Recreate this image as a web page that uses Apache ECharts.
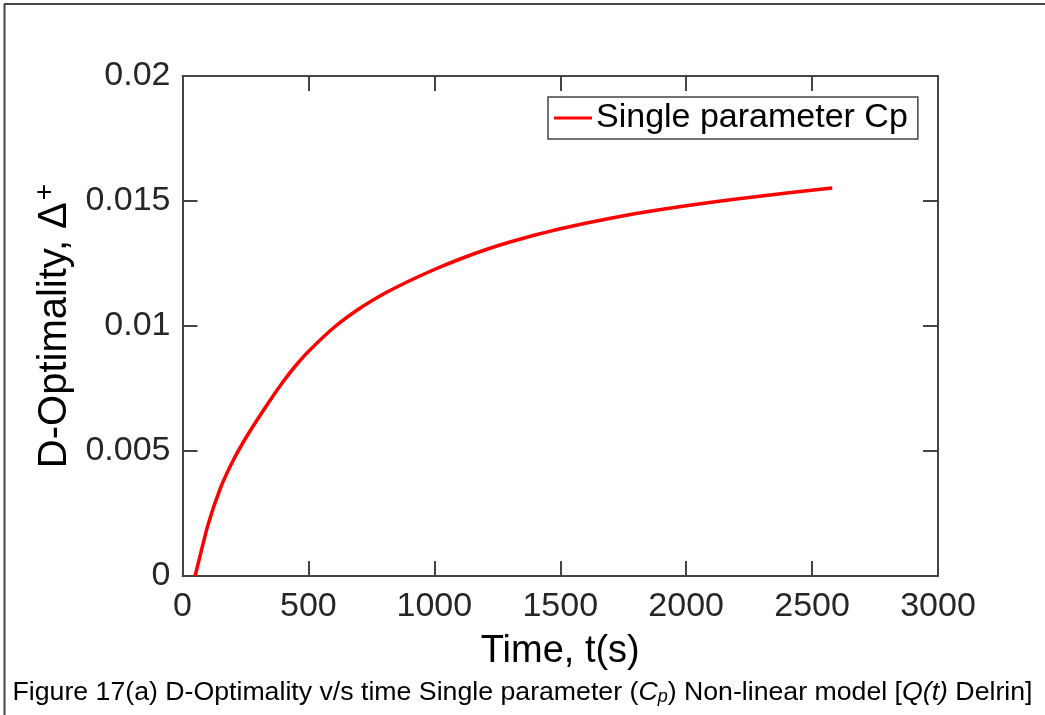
<!DOCTYPE html>
<html>
<head>
<meta charset="utf-8">
<script src="https://cdn.jsdelivr.net/npm/echarts@6/dist/echarts.min.js"></script>
<style>
html,body{margin:0;padding:0;background:#fff;}
#chart{width:1045px;height:715px;}
</style>
</head>
<body>
<div id="chart"></div>
<script>
// Data
var timeValues = [50, 100, 150, 200, 250, 300, 350, 400, 450, 500, 600, 700, 800, 900, 1000, 1100, 1200, 1300, 1400, 1500, 1600, 1800, 2000, 2200, 2400, 2580];
var dOptValues = [0, 0.0020, 0.0035, 0.0046, 0.0055, 0.0063, 0.00706, 0.00778, 0.00842, 0.00898, 0.00993, 0.01068, 0.01129, 0.01180, 0.01226, 0.01267, 0.01304, 0.01336, 0.01364, 0.01389, 0.01411, 0.01450, 0.01481, 0.01508, 0.01532, 0.01552];
var seriesName = 'Single parameter Cp';
var xTicks = [0, 500, 1000, 1500, 2000, 2500, 3000];
var yTicks = [0, 0.005, 0.01, 0.015, 0.02];

var pts = timeValues.map(function (t, i) { return [t, dOptValues[i]]; });
var FONT = '"Liberation Sans", Arial, Helvetica, sans-serif';
var AX = '#444444';
var TXT = '#262626';

var chart = echarts.init(document.getElementById('chart'), null, {renderer: 'canvas'});
function axisBase(min, max, interval) {
  return {
    type: 'value', min: min, max: max, interval: interval,
    axisLine: {show: true, onZero: false, lineStyle: {color: AX, width: 2}},
    axisTick: {show: true, inside: true, length: 15, lineStyle: {color: AX, width: 2}},
    splitLine: {show: false}
  };
}
var xMin = xTicks[0], xMax = xTicks[xTicks.length - 1];
var yMin = yTicks[0], yMax = yTicks[yTicks.length - 1];

chart.setOption({
  backgroundColor: '#ffffff',
  animation: false,
  grid: {left: 182.5, right: 107, top: 76, bottom: 139, containLabel: false},
  title: {
    text: 'Figure 17(a) D-Optimality v/s time Single parameter ({i|C}{sub|p}) Non-linear model [{i|Q(t)} Delrin]',
    left: 'center', top: 674,
    textStyle: {
      fontFamily: FONT, fontSize: 26.7, fontWeight: 'normal', color: '#000',
      rich: {
        i: {fontFamily: FONT, fontSize: 26.7, fontStyle: 'italic', color: '#000'},
        sub: {fontFamily: FONT, fontSize: 18, fontStyle: 'italic', color: '#000', verticalAlign: 'bottom', padding: [8, 0, 0, 0]}
      }
    }
  },
  legend: {
    show: true,
    data: [seriesName],
    left: 548, top: 97,
    orient: 'horizontal',
    icon: 'rect', itemWidth: 38, itemHeight: 3,
    itemGap: 4,
    padding: [4, 10, 4, 6],
    borderColor: AX, borderWidth: 1.5,
    backgroundColor: '#fff',
    textStyle: {fontFamily: FONT, fontSize: 34, color: '#000', padding: [0, 0, 0, -1]}
  },
  xAxis: [
    Object.assign(axisBase(xMin, xMax, 500), {
      position: 'bottom',
      name: 'Time, t(s)', nameLocation: 'middle', nameGap: 57,
      nameTextStyle: {fontFamily: FONT, fontSize: 38, color: '#000'},
      axisLabel: {show: true, margin: 14, fontFamily: FONT, fontSize: 34, color: TXT,
        formatter: function (v) { return String(v); }}
    }),
    Object.assign(axisBase(xMin, xMax, 500), {position: 'top', axisLabel: {show: false}})
  ],
  yAxis: [
    Object.assign(axisBase(yMin, yMax, 0.005), {
      position: 'left',
      name: 'D-Optimality, Δ{sup|+}', nameLocation: 'middle', nameGap: 96, nameRotate: 90,
      nameTextStyle: {
        fontFamily: FONT, fontSize: 40, color: '#000',
        rich: {sup: {fontFamily: FONT, fontSize: 28, color: '#000', verticalAlign: 'top', padding: [0, 0, 18, 2]}}
      },
      axisLabel: {show: true, margin: 12, fontFamily: FONT, fontSize: 34, color: TXT,
        formatter: function (v) { return String(+v.toFixed(4)); }}
    }),
    Object.assign(axisBase(yMin, yMax, 0.005), {position: 'right', axisLabel: {show: false}})
  ],
  series: [{
    name: seriesName, type: 'line', data: pts,
    xAxisIndex: 0, yAxisIndex: 0,
    showSymbol: false, smooth: 0.15,
    lineStyle: {color: '#ff0000', width: 3.5},
    itemStyle: {color: '#ff0000'}
  }],
  graphic: [
    {type: 'line', shape: {x1: 4.5, y1: 4, x2: 4.5, y2: 715}, style: {stroke: AX, lineWidth: 2}},
    {type: 'line', shape: {x1: 4, y1: 4, x2: 1045, y2: 4}, style: {stroke: AX, lineWidth: 2}}
  ]
});
</script>
</body>
</html>
